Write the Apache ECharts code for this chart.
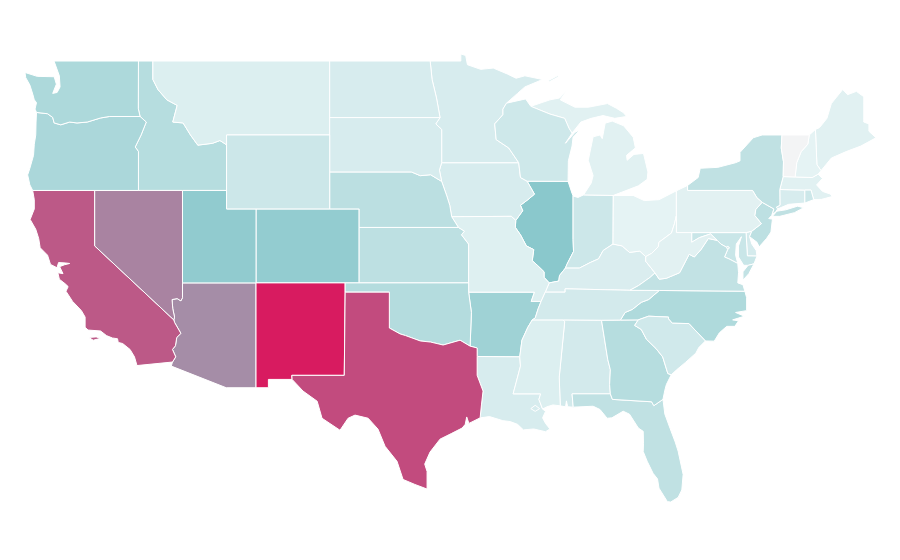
<!DOCTYPE html>
<html lang="en">

<head>
    <meta charset="UTF-8">
    <title>US states</title>
    <script src="https://cdn.jsdelivr.net/npm/echarts@6/dist/echarts.min.js"></script>
    <style>
        html, body { margin: 0; background: #fff; }
    </style>
</head>

<body>
    <div id="main" style="width: 900px;height: 560px"></div>
    <script type="text/javascript">
        // values, scale is 0 - 100, Vermont has no value
        var stateNames = ['Alabama', 'Arizona', 'Arkansas', 'California', 'Colorado', 'Connecticut', 'Delaware', 'District of Columbia',
            'Florida', 'Georgia', 'Idaho', 'Illinois', 'Indiana', 'Iowa', 'Kansas', 'Kentucky', 'Louisiana', 'Maine', 'Maryland',
            'Massachusetts', 'Michigan', 'Minnesota', 'Mississippi', 'Missouri', 'Montana', 'Nebraska', 'Nevada', 'New Hampshire',
            'New Jersey', 'New Mexico', 'New York', 'North Carolina', 'North Dakota', 'Ohio', 'Oklahoma', 'Oregon', 'Pennsylvania',
            'Rhode Island', 'South Carolina', 'South Dakota', 'Tennessee', 'Texas', 'Utah', 'Vermont', 'Virginia', 'Washington',
            'West Virginia', 'Wisconsin', 'Wyoming'];
        var stateValues = [19, 67, 41, 82, 46, 17, 18, 19,
            27, 31, 31, 50, 22, 17, 28, 16, 17, 13, 23,
            13, 13, 17, 15, 14, 15, 29, 70, 11,
            28, 100, 27, 34, 17, 11, 32, 36, 12.5,
            22, 20, 17, 19, 86, 47, null, 26, 35,
            12.5, 21, 22];

        // shared borders, lon/lat, so neighbouring states line up
        var pacWa = [[-124.73, 48.38], [-124.68, 48.1], [-124.4, 47.7], [-124.2, 47.2], [-124.1, 46.9], [-123.95, 46.75], [-124.05, 46.4], [-123.95, 46.22]];
        var pacOr = [[-123.95, 46.22], [-123.98, 45.7], [-124, 45], [-124.1, 44.5], [-124.15, 43.9], [-124.4, 43.2], [-124.55, 42.84], [-124.4, 42.3], [-124.21, 42]];
        var pacCa = [[-124.21, 42], [-124.1, 41.5], [-124.1, 41], [-124.38, 40.43], [-124, 39.9], [-123.8, 39.4], [-123.7, 38.9], [-123.2, 38.5], [-123, 38], [-122.56, 37.82], [-122.45, 38.1], [-122, 38.08], [-121.7, 38.05], [-122.05, 37.98], [-122.38, 37.88], [-122.15, 37.5], [-122.5, 37.55], [-122.4, 37.2], [-122, 36.95], [-121.8, 36.8], [-121.95, 36.55], [-121.5, 36], [-120.9, 35.5], [-120.65, 35.15], [-120.65, 34.6], [-120.45, 34.45], [-119.6, 34.4], [-119.2, 34.15], [-118.8, 34.02], [-118.45, 33.98], [-118.4, 33.78], [-118.1, 33.72], [-117.6, 33.4], [-117.3, 33], [-117.13, 32.53]];
        var waOr = [[-123.95, 46.22], [-123.2, 46.15], [-122.85, 45.95], [-122.75, 45.65], [-122.3, 45.55], [-121.7, 45.7], [-121.2, 45.65], [-120.5, 45.7], [-119.6, 45.92], [-119, 46], [-116.92, 46]];
        var orId = [[-116.92, 46], [-116.5, 45.7], [-116.85, 45], [-117.25, 44.35], [-117.03, 44.1], [-117.03, 42]];
        var idMt = [[-116.05, 49], [-116.05, 48], [-115.7, 47.45], [-115.1, 46.9], [-114.4, 46.6], [-114.7, 45.7], [-114, 45.65], [-113.5, 45], [-113, 44.45], [-112, 44.55], [-111.5, 44.7], [-111.05, 44.47]];
        var caAz = [[-114.63, 35], [-114.57, 34.85], [-114.15, 34.27], [-114.43, 34.05], [-114.52, 33.6], [-114.72, 33.4], [-114.5, 33], [-114.72, 32.72]];
        var nvAz = [[-114.04, 37], [-114.04, 36.2], [-114.15, 36.03], [-114.4, 36.15], [-114.75, 36.1], [-114.7, 35.6], [-114.58, 35.15], [-114.63, 35]];
        var azMex = [[-114.72, 32.72], [-114.8, 32.5], [-111.07, 31.33], [-109.05, 31.33]];
        var nmMex = [[-106.6, 31.78], [-108.21, 31.78], [-108.21, 31.33], [-109.05, 31.33]];
        var nmTx = [[-103, 36.5], [-103.06, 32], [-106.62, 32], [-106.6, 31.78]];
        var okTx = [[-103, 36.5], [-100, 36.5], [-100, 34.56], [-99.27, 34.24], [-98.9, 34.15], [-97.9, 33.86], [-97.2, 33.8], [-96.35, 33.64], [-95.2, 33.9], [-94.52, 33.58]];
        var arTx = [[-94.52, 33.58], [-94.04, 33.48], [-94.04, 33.02]];
        var txLa = [[-94.04, 33.02], [-94.04, 32], [-93.64, 31.15], [-93.75, 30.4], [-93.84, 29.7]];
        var txGulf = [[-93.84, 29.7], [-94.6, 29.4], [-94.75, 29.75], [-94.85, 29.35], [-95.06, 29.15], [-95.8, 28.85], [-96.56, 28.55], [-97.24, 27.85], [-97.6, 27.2], [-97.44, 26.8], [-97.44, 25.85]];
        var rioGrande = [[-97.44, 25.85], [-98.27, 26.1], [-99.07, 26.37], [-99.48, 27.35], [-100.29, 28.16], [-100.77, 29.09], [-101.44, 29.68], [-102.33, 29.85], [-102.8, 29.68], [-103.35, 29.03], [-104.57, 29.68], [-104.9, 30.6], [-105.86, 31.15], [-106.6, 31.78]];
        var arOk = [[-94.52, 33.58], [-94.43, 35.4], [-94.62, 36.5]];
        var arMo = [[-94.62, 36.5], [-90.15, 36.5], [-90.37, 36], [-89.7, 36]];
        var moTn = [[-89.42, 36.5], [-89.7, 36]];
        var arTn = [[-89.7, 36], [-89.9, 35.6], [-90.1, 35.1], [-90.3, 35]];
        var arMs = [[-90.3, 35], [-90.6, 34.6], [-91, 33.9], [-91.15, 33]];
        var laMs = [[-91.15, 33], [-91.1, 32.5], [-91.4, 31.6], [-91.6, 31], [-89.73, 31], [-89.85, 30.7], [-89.6, 30.18]];
        var laCoast = [[-89.6, 30.18], [-89.4, 30.05], [-89.6, 29.7], [-89.4, 29.4], [-89.1, 29.1], [-89.4, 28.95], [-90.2, 29.1], [-90.9, 29.05], [-91.3, 29.35], [-91.8, 29.5], [-92.3, 29.55], [-93.2, 29.77], [-93.84, 29.7]];
        var msCoast = [[-88.4, 30.35], [-88.9, 30.4], [-89.3, 30.3], [-89.6, 30.18]];
        var alMs = [[-88.2, 35], [-88.1, 34.9], [-88.47, 31.9], [-88.4, 30.35]];
        var alCoast = [[-87.52, 30.28], [-87.9, 30.3], [-87.98, 30.62], [-88.04, 30.3], [-88.4, 30.35]];
        var alFl = [[-87.52, 30.28], [-87.6, 31], [-85, 31]];
        var alGa = [[-85.6, 34.98], [-85.18, 32.87], [-85, 32.3], [-85.05, 31.5], [-85, 31]];
        var gaFl = [[-81.43, 30.7], [-82.05, 30.36], [-82.2, 30.57], [-84.86, 30.7], [-85, 31]];
        var flCoast = [[-81.43, 30.7], [-81.3, 29.9], [-80.95, 29.14], [-80.6, 28.4], [-80.4, 27.9], [-80.06, 26.64], [-80.15, 25.8], [-80.4, 25.4], [-80.9, 25.15], [-81.13, 25.17], [-81.7, 25.9], [-81.8, 26.4], [-82.1, 26.7], [-82.5, 27.35], [-82.77, 27.88], [-82.75, 28.3], [-82.77, 28.97], [-83.1, 29.15], [-83.7, 29.9], [-84.13, 30.06], [-84.9, 29.7], [-85.22, 29.68], [-85.7, 30.15], [-86.17, 30.33], [-87.52, 30.28]];
        var gaCoast = [[-80.87, 32.03], [-81.2, 31.5], [-81.3, 31.2], [-81.43, 30.7]];
        var gaSc = [[-83.11, 35], [-83.35, 34.7], [-82.9, 34.48], [-82.55, 33.95], [-81.9, 33.45], [-81.45, 33], [-81.1, 32.1], [-80.87, 32.03]];
        var scCoast = [[-78.55, 33.86], [-79, 33.5], [-79.2, 33.2], [-79.9, 32.7], [-80.5, 32.3], [-80.87, 32.03]];
        var ncSc = [[-83.11, 35], [-82.4, 35.2], [-81.05, 35.15], [-81.05, 35.05], [-80.8, 34.82], [-79.67, 34.8], [-78.55, 33.86]];
        var ncCoast = [[-78.55, 33.86], [-77.95, 33.85], [-77.6, 34.3], [-77.1, 34.65], [-76.55, 34.65], [-76.3, 34.95], [-76.7, 35], [-76.3, 35.1], [-75.9, 35.2], [-76.5, 35.4], [-75.75, 35.5], [-75.75, 36.2], [-75.87, 36.55]];
        var gaTn = [[-85.6, 34.98], [-84.32, 34.99]];
        var alTn = [[-88.2, 35], [-85.6, 34.98]];
        var msTn = [[-90.3, 35], [-88.2, 35]];
        var tnNc = [[-81.68, 36.59], [-82.4, 36.1], [-82.9, 35.95], [-83.5, 35.57], [-84, 35.4], [-84.32, 34.99]];
        var ncGa = [[-83.11, 35], [-84.32, 34.99]];
        var kyTn = [[-89.42, 36.5], [-88.07, 36.5], [-88.07, 36.68], [-83.68, 36.6]];
        var tnVa = [[-83.68, 36.6], [-81.68, 36.59]];
        var ncVa = [[-81.68, 36.59], [-75.87, 36.55]];
        var vaCoast = [[-75.87, 36.55], [-76, 36.9], [-76.35, 37], [-76.3, 37.55], [-76.35, 38.05]];
        var mdVa = [[-76.35, 38.05], [-76.95, 38.3], [-77.25, 38.4], [-77.04, 38.8]];
        var mdDc = [[-77.04, 38.8], [-76.91, 38.89], [-77.04, 39], [-77.12, 38.93]];
        var mdVa2 = [[-77.12, 38.93], [-77.5, 39.1], [-77.75, 39.3]];
        var mdWv = [[-77.75, 39.3], [-78.2, 39.65], [-78.95, 39.45], [-79.48, 39.2], [-79.48, 39.72]];
        var vaWv = [[-77.75, 39.3], [-78.35, 39.4], [-78.85, 38.8], [-79.3, 38.4], [-79.65, 38.55], [-80.3, 37.55], [-81.2, 37.25], [-81.68, 37.2], [-81.97, 37.54]];
        var kyVa = [[-81.97, 37.54], [-82.3, 37.3], [-83.1, 36.85], [-83.68, 36.6]];
        var wvKy = [[-81.97, 37.54], [-82.6, 38.17], [-82.6, 38.42]];
        var ohWv = [[-82.6, 38.42], [-82.2, 38.6], [-81.75, 38.95], [-81.7, 39.2], [-80.85, 39.7], [-80.65, 40.2], [-80.52, 40.64]];
        var ohKy = [[-84.82, 39.1], [-84.2, 39], [-83.7, 38.65], [-83, 38.72], [-82.6, 38.42]];
        var inKy = [[-88.05, 37.8], [-87.1, 37.8], [-86.37, 38.1], [-85.8, 38.3], [-85.49, 38.75], [-84.82, 39.1]];
        var ilKy = [[-89.15, 37], [-88.5, 37.1], [-88.45, 37.4], [-88.05, 37.8]];
        var moKy = [[-89.42, 36.5], [-89.15, 37]];
        var moIl = [[-91.42, 40.38], [-91.45, 40], [-91.1, 39.6], [-90.7, 39], [-90.2, 38.8], [-90.3, 38.2], [-89.95, 37.95], [-89.5, 37.6], [-89.5, 37.3], [-89.15, 37]];
        var iaIl = [[-90.65, 42.5], [-90.15, 41.8], [-90.6, 41.5], [-91.1, 41.2], [-90.95, 40.9], [-91.42, 40.38]];
        var iaMo = [[-91.42, 40.38], [-91.72, 40.6], [-95.77, 40.58]];
        var neIa = [[-96.45, 42.49], [-96.1, 41.7], [-95.9, 41.2], [-95.77, 40.58]];
        var neMo = [[-95.77, 40.58], [-95.31, 40]];
        var ksMo = [[-94.62, 37], [-94.62, 39.1], [-95.1, 39.6], [-94.9, 39.8], [-95.31, 40]];
        var moOk = [[-94.62, 37], [-94.62, 36.5]];
        var sdNe = [[-104.05, 43], [-98.5, 43], [-97.9, 42.8], [-97.2, 42.85], [-96.45, 42.49]];
        var iaSd = [[-96.45, 42.49], [-96.6, 43.1], [-96.45, 43.5]];
        var mnSd = [[-96.45, 43.5], [-96.45, 45.3], [-96.85, 45.6], [-96.56, 45.94]];
        var mnNd = [[-96.56, 45.94], [-96.8, 47], [-97.1, 48], [-97.23, 49]];
        var mnTop = [[-97.23, 49], [-95.15, 49], [-95.15, 49.38], [-94.82, 49.3], [-94.7, 48.8], [-93.8, 48.55], [-92.95, 48.62], [-92, 48.3], [-91.4, 48.07], [-90.8, 48.2], [-89.6, 48], [-90.8, 47.6], [-91.3, 47.25], [-92.05, 46.72]];
        var mnWi = [[-92.05, 46.72], [-92.29, 46.4], [-92.29, 46.1], [-92.85, 45.6], [-92.75, 44.75], [-91.9, 44.3], [-91.22, 43.5]];
        var wiIa = [[-90.65, 42.5], [-91.1, 42.7], [-91.22, 43.5]];
        var wiTop = [[-92.05, 46.72], [-91.2, 46.87], [-90.75, 46.95], [-90.4, 46.55]];
        var wiMi = [[-90.4, 46.55], [-89.1, 46.13], [-88.1, 45.9], [-87.8, 45.35], [-87.6, 45.1]];
        var wiLake = [[-87.6, 45.1], [-88.05, 44.55], [-87.4, 45.15], [-87.05, 45.28], [-87.53, 44.88], [-87.6, 44.4], [-87.85, 43.6], [-87.87, 42.49]];
        var wiIl = [[-87.87, 42.49], [-90.65, 42.5]];
        var ilIn = [[-88.05, 37.8], [-87.95, 38], [-87.5, 38.7], [-87.53, 39.35], [-87.53, 41.7]];
        var ilLake = [[-87.53, 41.7], [-87.6, 41.84], [-87.87, 42.49]];
        var inOh = [[-84.82, 39.1], [-84.8, 41.73]];
        var inMi = [[-84.8, 41.73], [-86.82, 41.76]];
        var inLake = [[-86.82, 41.76], [-87.2, 41.62], [-87.53, 41.7]];
        var ohMi = [[-83.45, 41.73], [-84.8, 41.73]];
        var ohLake = [[-80.52, 41.98], [-81.7, 41.5], [-82.7, 41.45], [-83.45, 41.73]];
        var paOh = [[-80.52, 40.64], [-80.52, 41.98]];
        var paLake = [[-79.76, 42.27], [-80.52, 41.98]];
        var paWv = [[-80.52, 40.64], [-80.52, 39.72], [-79.48, 39.72]];
        var paMd = [[-79.48, 39.72], [-75.79, 39.72]];
        var paDe = [[-75.79, 39.72], [-75.4, 39.8]];
        var paNj = [[-75.4, 39.8], [-74.75, 40.2], [-75.2, 40.65], [-75.13, 40.97], [-74.7, 41.36]];
        var paNy = [[-74.7, 41.36], [-75.05, 41.6], [-75.35, 42], [-79.76, 42], [-79.76, 42.27]];
        var nyLake = [[-79.76, 42.27], [-79.04, 42.7], [-78.9, 43.2], [-77.7, 43.25], [-76.5, 43.5], [-76.2, 43.6], [-76.2, 44.06], [-75.3, 44.85], [-74.7, 45], [-73.35, 45]];
        var nyVt = [[-73.35, 45], [-73.4, 44.3], [-73.25, 43.55], [-73.27, 42.75]];
        var nyCt = [[-73.5, 42.05], [-73.49, 41.2], [-73.73, 41.1], [-73.65, 41]];
        var nyNj = [[-73.9, 41], [-74.7, 41.36]];
        var njCoast = [[-73.9, 41], [-74.05, 40.65], [-74.25, 40.48], [-74, 40.45], [-74.1, 39.75], [-74.4, 39.4], [-74.9, 38.95], [-75.05, 39.2], [-75.55, 39.5], [-75.4, 39.8]];
        var deBay = [[-75.4, 39.8], [-75.55, 39.5], [-75.4, 39.1], [-75.1, 38.75], [-75.05, 38.45]];
        var deMd = [[-75.05, 38.45], [-75.7, 38.46], [-75.79, 39.72]];
        var mdCoast = [[-75.05, 38.45], [-75.25, 38.03], [-75.65, 37.95], [-75.95, 37.95], [-76.3, 38.4], [-76.3, 39], [-76.1, 39.5], [-76.45, 39.1], [-76.5, 38.5], [-76.35, 38.05]];
        var vtNh = [[-71.5, 45], [-71.6, 44.5], [-72.05, 44.1], [-72.35, 43.5], [-72.46, 42.73]];
        var nhMe = [[-71.08, 45.3], [-70.98, 43.4], [-70.7, 43.07]];

        function rev(a) {
            return a.slice().reverse();
        }
        function ring() {
            return Array.prototype.concat.apply([], arguments);
        }

        // one list of polygons per state, each polygon is a list of rings
        var shapes = {
            'Washington': [[ring(pacWa, waOr, [[-117.04, 46.42], [-117.03, 49], [-122.76, 49], [-122.4, 48.2], [-122.35, 47.6], [-122.55, 47.3], [-122.85, 47.25], [-122.6, 47.75], [-122.75, 48.15], [-123.9, 48.17]])]],
            'Oregon': [[ring(pacOr, [[-117.03, 42]], rev(orId), rev(waOr))]],
            'California': [[ring(pacCa, [[-114.72, 32.72]], rev(caAz), [[-120, 39], [-120, 42]])],
                [[[-120.4, 34.05], [-119.9, 34.08], [-119.6, 34], [-120.1, 33.9]]]],
            'Nevada': [[ring([[-120, 42], [-114.04, 42]], nvAz, [[-120, 39]])]],
            'Idaho': [[ring([[-117.03, 49]], idMt, [[-111.05, 42]], rev(orId), [[-117.04, 46.42]])]],
            'Montana': [[ring(idMt, [[-111.05, 45], [-104.05, 45], [-104.05, 49]])]],
            'Wyoming': [[[[-111.05, 45], [-104.05, 45], [-104.05, 41], [-111.05, 41]]]],
            'Utah': [[[[-114.04, 42], [-111.05, 42], [-111.05, 41], [-109.05, 41], [-109.05, 37], [-114.04, 37]]]],
            'Arizona': [[ring(nvAz, caAz, azMex, [[-109.05, 37]])]],
            'Colorado': [[[[-109.05, 41], [-102.05, 41], [-102.05, 37], [-109.05, 37]]]],
            'New Mexico': [[ring([[-109.05, 37], [-103, 37]], nmTx, nmMex)]],
            'Texas': [[ring(okTx, arTx, txLa, txGulf, rioGrande, rev(nmTx))]],
            'Oklahoma': [[ring([[-103, 37], [-94.62, 37]], moOk, rev(arOk), rev(okTx))]],
            'Kansas': [[ring([[-102.05, 40]], rev(ksMo), [[-102.05, 37]])]],
            'Nebraska': [[ring(sdNe, neIa, neMo, [[-102.05, 40], [-102.05, 41], [-104.05, 41]])]],
            'South Dakota': [[ring([[-104.05, 45.94]], rev(mnSd), rev(iaSd), rev(sdNe))]],
            'North Dakota': [[ring([[-104.05, 49]], rev(mnNd), [[-104.05, 45.94]])]],
            'Minnesota': [[ring(mnTop, mnWi, mnSd, mnNd)]],
            'Iowa': [[ring([[-96.45, 43.5]], rev(wiIa), iaIl, iaMo, rev(neIa), iaSd)]],
            'Missouri': [[ring(rev(iaMo), moIl, rev(moKy), moTn, rev(arMo), rev(moOk), ksMo, rev(neMo))]],
            'Arkansas': [[ring(arMo, arTn, arMs, [[-94.04, 33.02]], rev(arTx), arOk)]],
            'Louisiana': [[ring([[-94.04, 33.02]], laMs, laCoast, rev(txLa)), [[-90.4, 30.2], [-90.1, 30.38], [-89.8, 30.2], [-90.1, 30.05]]]],
            'Wisconsin': [[ring(wiTop, wiMi, wiLake, wiIl, wiIa, rev(mnWi))]],
            'Illinois': [[ring(iaIl, moIl, ilKy, ilIn, ilLake, wiIl)]],
            'Indiana': [[ring(inKy, inOh, inMi, inLake, rev(ilIn))]],
            'Ohio': [[ring(inOh, rev(ohMi), rev(ohLake), rev(paOh), rev(ohWv), rev(ohKy))]],
            'Michigan': [[ring(inMi, [[-86.3, 42.4], [-86.17, 42.8], [-86.5, 43.63], [-86.17, 44.9], [-85.7, 45], [-85.55, 44.8], [-85.35, 45.64], [-84.87, 45.75], [-84.1, 45.5], [-83.45, 44.88], [-83.3, 44.3], [-83.9, 43.9], [-83.86, 43.63], [-83.4, 43.95], [-82.75, 44], [-82.45, 43], [-82.5, 42.6], [-83.1, 42.25]], rev(ohMi))],
                [ring(rev(wiMi), [[-89.1, 46.9], [-88.45, 47], [-87.9, 47.47], [-88.4, 46.9], [-87.4, 46.5], [-86.5, 46.5], [-85.2, 46.7], [-84.6, 46.45], [-84.1, 46.2], [-83.9, 46], [-84.7, 45.9], [-85.5, 46.05], [-86.3, 45.9], [-87, 45.7]])],
                [[[-89.2, 47.85], [-88.5, 48.15], [-88.6, 48.2], [-89.2, 47.95]]]],
            'Kentucky': [[ring(ilKy, inKy, ohKy, rev(wvKy), kyVa, rev(kyTn), moKy)]],
            'Tennessee': [[ring(kyTn, tnVa, tnNc, rev(gaTn), rev(alTn), rev(msTn), rev(arTn), rev(moTn))]],
            'Mississippi': [[ring(msTn, alMs, msCoast, rev(laMs), rev(arMs))]],
            'Alabama': [[ring(alTn, alGa, rev(alFl), alCoast, rev(alMs))]],
            'Georgia': [[ring(gaTn, rev(ncGa), gaSc, gaCoast, gaFl, rev(alGa))]],
            'Florida': [[ring(alFl, rev(gaFl), flCoast)]],
            'South Carolina': [[ring(ncSc, scCoast, rev(gaSc))]],
            'North Carolina': [[ring(ncVa, rev(ncCoast), rev(ncSc), ncGa, rev(tnNc))]],
            'Virginia': [[ring(tnVa, ncVa, vaCoast, mdVa, mdVa2, vaWv, kyVa)],
                [[[-75.65, 37.95], [-75.25, 38.03], [-75.6, 37.5], [-76, 37.15], [-76, 37.6]]]],
            'West Virginia': [[ring(ohWv, paWv, rev(mdWv), vaWv, wvKy)]],
            'Maryland': [[ring(paMd, rev(deMd), mdCoast, mdVa, mdDc, mdVa2, mdWv)]],
            'District of Columbia': [[mdDc]],
            'Delaware': [[ring(paDe, deBay, deMd)]],
            'Pennsylvania': [[ring(paOh, rev(paLake), rev(paNy), rev(paNj), rev(paDe), rev(paMd), rev(paWv))]],
            'New Jersey': [[ring(rev(nyNj), njCoast, paNj)]],
            'New York': [[ring(nyLake, nyVt, nyCt, [[-73.8, 40.82], [-74, 40.72]], nyNj, paNy)],
                [[[-74, 40.6], [-73.7, 40.88], [-73.1, 40.95], [-72.3, 41.15], [-71.87, 41.07], [-72.5, 40.8], [-73.5, 40.6]]]],
            'Connecticut': [[ring(nyCt, [[-72.9, 41.25], [-71.8, 41.32], [-71.8, 42.02]])]],
            'Rhode Island': [[[[-71.8, 42.02], [-71.38, 42.02], [-71.2, 41.5], [-71.8, 41.32]]]],
            'Massachusetts': [[[[-73.5, 42.05], [-73.27, 42.75], [-72.46, 42.73], [-71.3, 42.7], [-70.9, 42.88], [-70.6, 42.65], [-71, 42.3], [-70.6, 41.95], [-70.05, 41.8], [-70.25, 42.05], [-69.95, 41.67], [-70.65, 41.52], [-71.2, 41.5], [-71.38, 42.02], [-71.8, 42.02]]]],
            'Vermont': [[ring([[-73.35, 45]], vtNh, rev(nyVt))]],
            'New Hampshire': [[ring(vtNh, [[-71.3, 42.7], [-70.9, 42.88]], rev(nhMe))]],
            'Maine': [[ring(nhMe, [[-70, 43.75], [-69, 44.1], [-68, 44.4], [-66.97, 44.85], [-67.45, 45.2], [-67.45, 45.6], [-67.8, 45.7], [-67.8, 47.07], [-68.3, 47.36], [-68.9, 47.18], [-69.23, 47.46], [-70, 46.7], [-70.3, 45.9], [-70.8, 45.4]])]]
        };

        var usa = {
            type: 'FeatureCollection',
            features: stateNames.map(function (name) {
                return {
                    type: 'Feature',
                    properties: { name: name },
                    geometry: { type: 'MultiPolygon', coordinates: shapes[name] }
                };
            })
        };
        echarts.registerMap('USA', usa);

        var myChart = echarts.init(document.getElementById('main'));
        var option = {
            animation: false,
            visualMap: {
                show: false,
                min: 0,
                max: 100,
                inRange: { color: ['#ffffff', '#8ac8cc', '#d81b60'] }
            },
            series: [{
                type: 'map',
                map: 'USA',
                aspectScale: 0.8,
                left: 25,
                right: 24,
                top: 54,
                bottom: 58,
                silent: true,
                label: { show: false },
                emphasis: { disabled: true },
                select: { disabled: true },
                itemStyle: {
                    areaColor: '#f3f4f5',
                    borderColor: '#ffffff',
                    borderWidth: 1
                },
                data: stateNames.map(function (name, i) {
                    return { name: name, value: stateValues[i] };
                })
            }]
        };
        myChart.setOption(option);
    </script>
</body>

</html>
